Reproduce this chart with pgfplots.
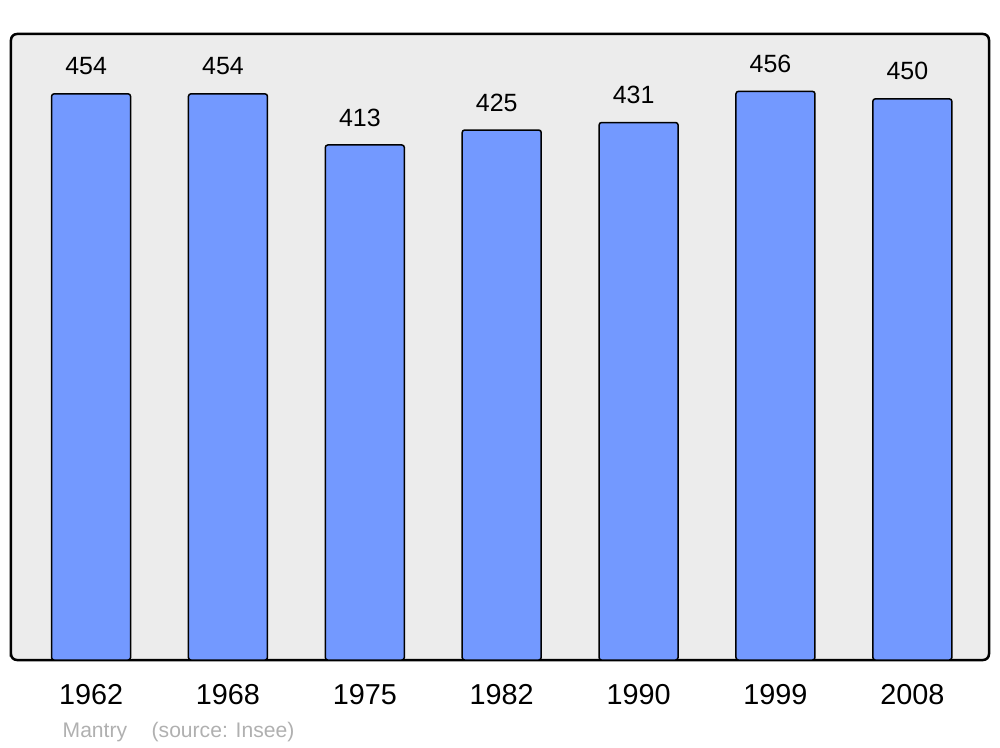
\documentclass[border=0pt]{standalone}
\usepackage{pgfplots}
\pgfplotsset{compat=1.18}
\usepackage{fontspec}
\setmainfont{Liberation Sans}
\definecolor{barblue}{HTML}{7399FF}
\definecolor{bggray}{HTML}{ECECEC}
\definecolor{srcgray}{HTML}{B0B0B0}
\begin{document}
\begin{tikzpicture}
\useasboundingbox (0,0) rectangle (100mm,74.7mm);
\begin{axis}[
  at={(1.1mm,8.7mm)}, anchor=south west,
  scale only axis,
  width=97.8mm, height=62.6mm,
  xmin=-0.585, xmax=6.56,
  ymin=0, ymax=502,
  axis line style={line width=0.25mm, rounded corners=0.6mm},
  axis background/.style={fill=bggray, rounded corners=0.6mm},
  ytick=\empty,
  xtick=data,
  xticklabels={1962,1968,1975,1982,1990,1999,2008},
  major tick length=0pt,
  xticklabel style={anchor=center, yshift=-3.5mm, font=\fontsize{8.2}{9}\selectfont},
  /pgf/number format/assume math mode=true,
  ybar, bar width=7.9mm,
  nodes near coords,
  every node near coord/.append style={anchor=center, xshift=-0.5mm, yshift=2.75mm, font=\fontsize{7.1}{8}\selectfont, text=black},
]
\addplot[fill=barblue, draw=black, line width=0.15mm, rounded corners=0.25mm]
  coordinates {(0,454) (1,454) (2,413) (3,425) (4,431) (5,456) (6,450)};
\end{axis}
\node[anchor=base west, text=srcgray, font=\fontsize{6}{7}\selectfont, inner sep=0pt] at (6.2mm,1.0mm) {Mantry};
\node[anchor=base west, text=srcgray, font=\fontsize{6}{7}\selectfont, inner sep=0pt] at (15.1mm,1.0mm) {(source: Insee)};
\end{tikzpicture}
\end{document}
